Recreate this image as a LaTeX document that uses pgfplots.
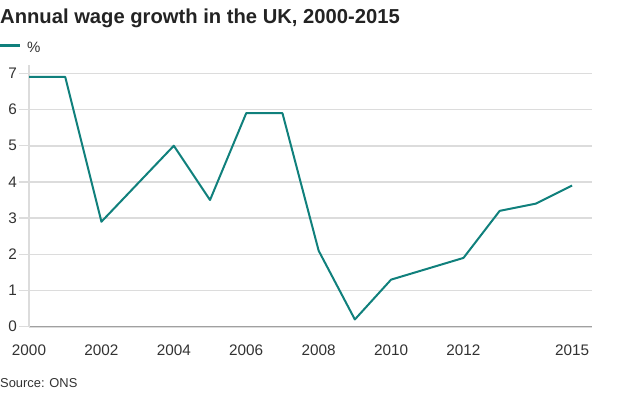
\documentclass[border=0pt]{standalone}
\usepackage{pgfplots}
\pgfplotsset{compat=1.18}
\usepackage{fontspec}
\setmainfont{Liberation Sans}
\definecolor{teal1}{RGB}{16,128,124}
\definecolor{gridc}{RGB}{220,220,220}
\definecolor{axisc}{RGB}{160,160,160}
\definecolor{txt}{RGB}{50,50,50}
\begin{document}
\begin{tikzpicture}
\path[use as bounding box] (0,0) rectangle (624bp,393bp);
\node[anchor=base west, inner sep=0pt, text=txt!70!black] at (0bp,369bp) {\fontsize{20.2bp}{22bp}\selectfont\bfseries Annual wage growth in the UK, 2000-2015};
\draw[teal1, line width=3bp] (0bp,347bp) -- (20bp,347bp);
\node[anchor=base west, inner sep=0pt, text=txt] at (27bp,340.5bp) {\fontsize{15bp}{17bp}\selectfont \%};
\node[anchor=base west, inner sep=0pt, text=txt] at (0bp,6bp) {\fontsize{12.9bp}{15bp}\selectfont Source: ONS};
\begin{axis}[
  at={(29bp,66.3bp)}, anchor=south west,
  scale only axis, width=563bp, height=261.7bp,
  xmin=2000, xmax=2015.55, ymin=0, ymax=7.23,
  axis lines*=left,
  x axis line style={draw=axisc, line width=1.2bp, -},
  y axis line style={draw=gridc, line width=1.5bp, -},
  xtick={2000,2002,2004,2006,2008,2010,2012,2015},
  ytick={0,1,2,3,4,5,6,7},
  x tick label style={/pgf/number format/1000 sep={}},
  xticklabel style={anchor=north, inner sep=0pt, yshift=-8bp, font=\fontsize{15.3bp}{17bp}\selectfont, text=txt},
  yticklabel style={anchor=east, inner sep=0pt, xshift=-2bp, font=\fontsize{15.3bp}{17bp}\selectfont, text=txt},
  /pgf/number format/assume math mode=true,
  xtick style={draw=none},
  ytick style={draw=gridc, line width=1.5bp},
  tick align=outside,
  major tick length=10bp,
  ymajorgrids,
  grid style={draw=gridc, line width=1.6bp},
  clip=false,
]
\addplot[teal1, line width=2bp, line join=round] coordinates {
(2000,6.9) (2001,6.9) (2002,2.9) (2003,3.95) (2004,5.0) (2005,3.5) (2006,5.9) (2007,5.9)
(2008,2.1) (2009,0.2) (2010,1.3) (2011,1.6) (2012,1.9) (2013,3.2) (2014,3.4) (2015,3.9)
};
\end{axis}
\end{tikzpicture}
\end{document}
